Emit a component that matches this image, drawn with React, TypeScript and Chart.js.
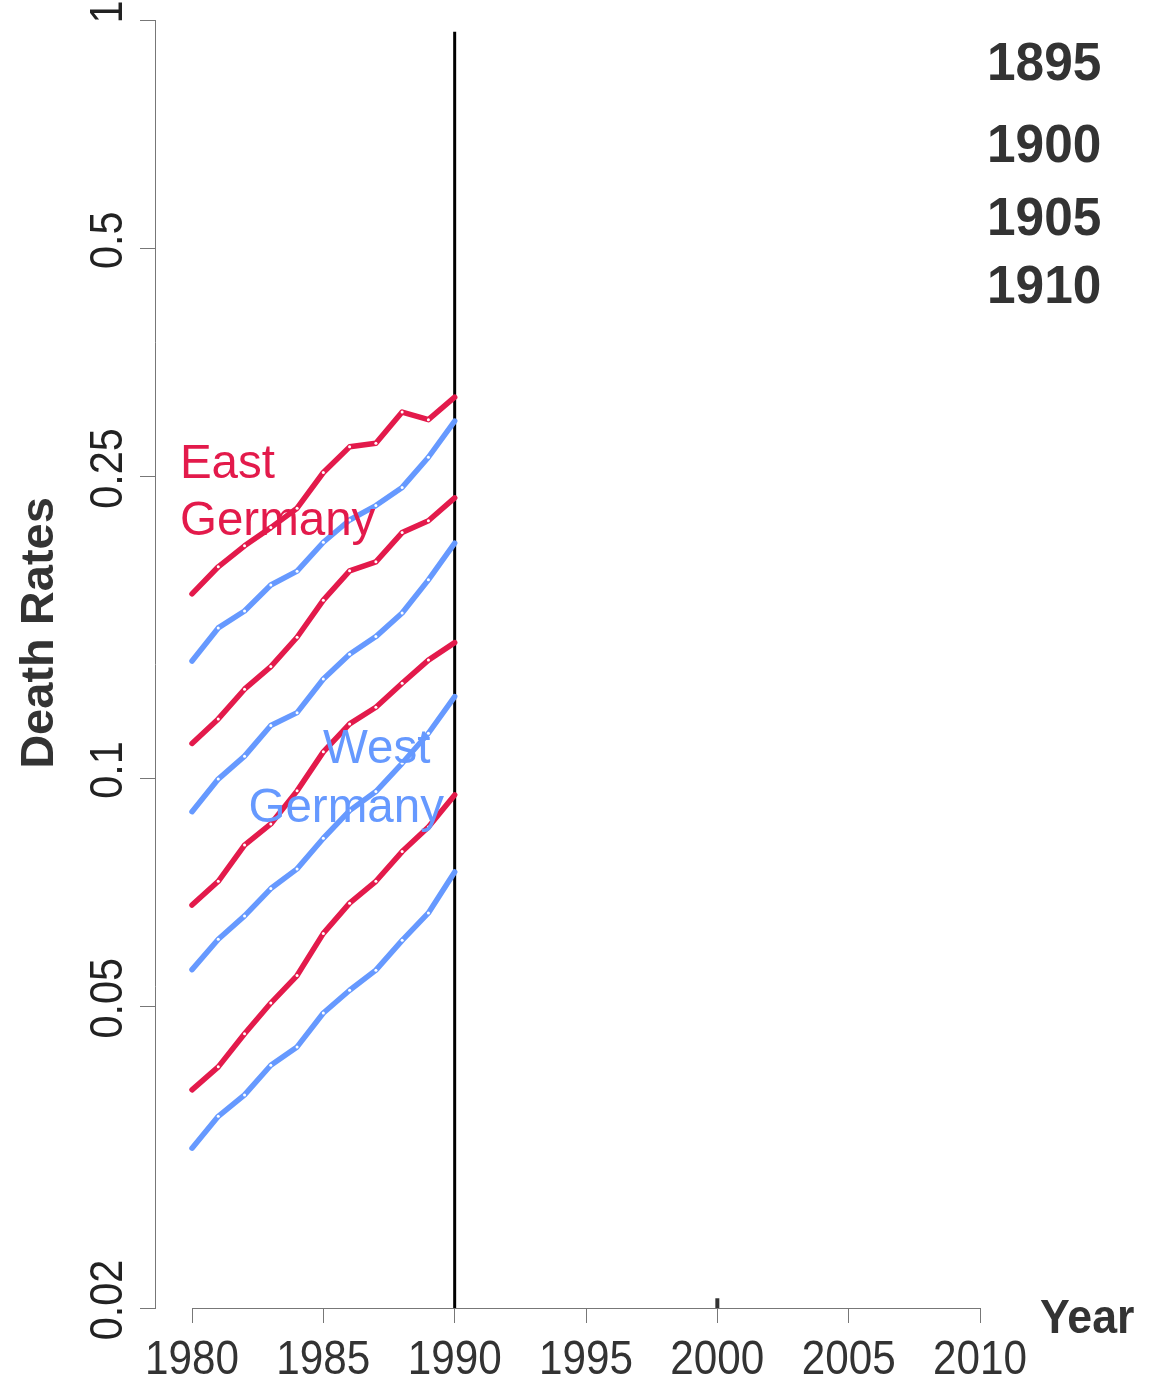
import React, { useEffect, useRef } from "react";
import { Chart, registerables } from "chart.js";

Chart.register(...registerables);

const W = 1163;
const H = 1379;

// ---- data ----
const YEARS = [1980, 1981, 1982, 1983, 1984, 1985, 1986, 1987, 1988, 1989, 1990];
const COHORTS = ["1895", "1900", "1905", "1910"];

const EAST_1895 = [0.175, 0.190, 0.2025, 0.214, 0.227, 0.253, 0.2735, 0.2765, 0.304, 0.297, 0.318];
const WEST_1895 = [0.1427, 0.1578, 0.1661, 0.1798, 0.1875, 0.2047, 0.219, 0.2288, 0.2418, 0.265, 0.2958];
const EAST_1900 = [0.1111, 0.1197, 0.131, 0.1403, 0.1534, 0.1717, 0.1877, 0.1929, 0.2108, 0.2185, 0.2342];
const WEST_1900 = [0.0903, 0.0997, 0.1069, 0.1173, 0.122, 0.1351, 0.1457, 0.1537, 0.1651, 0.1826, 0.2041];
const EAST_1905 = [0.068, 0.0731, 0.0816, 0.087, 0.0962, 0.1083, 0.1179, 0.124, 0.1334, 0.1431, 0.1509];
const WEST_1905 = [0.0559, 0.0613, 0.0658, 0.0715, 0.0759, 0.0833, 0.0906, 0.096, 0.1046, 0.1146, 0.1281];
const EAST_1910 = [0.0388, 0.0416, 0.046, 0.0505, 0.0549, 0.0624, 0.0684, 0.0731, 0.08, 0.0862, 0.095];
const WEST_1910 = [0.0325, 0.0358, 0.0382, 0.0418, 0.0442, 0.049, 0.0525, 0.0558, 0.0611, 0.0664, 0.0752];

const X_TICKS = [1980, 1985, 1990, 1995, 2000, 2005, 2010];
const Y_TICKS = [0.02, 0.05, 0.1, 0.25, 0.5, 1];
const Y_TICK_LABELS = ["0.02", "0.05", "0.1", "0.25", "0.5", "1"];

const X_MIN = 1978.591;
const X_MAX = 2011.18;
const Y_MIN = 0.02;
const Y_MAX = 1;

const REUNIFICATION_YEAR = 1990;
const REUNIFICATION_TOP = 0.965;
const MARK_YEAR = 2000;
const MARK_TOP = 0.0206;

// ---- styles ----
const RED = "#E31A4B";
const BLUE = "#6699FF";
const AXIS = "#777777";
const TEXT = "#333333";
const TICK_TEXT = "#222222";
const FONT = "'Liberation Sans', Arial, Helvetica, sans-serif";

const pts = (vals: number[]) => vals.map((v, i) => ({ x: YEARS[i], y: v }));

function seriesDataset(label: string, vals: number[], color: string) {
  const last = vals.length - 1;
  return {
    label,
    data: pts(vals),
    borderColor: color,
    backgroundColor: color,
    borderWidth: 5.5,
    borderCapStyle: "round" as const,
    borderJoinStyle: "round" as const,
    pointRadius: (c: any) => (c.dataIndex === 0 || c.dataIndex === last ? 0 : 1.5),
    pointBackgroundColor: "#ffffff",
    pointBorderWidth: 0,
    pointHoverRadius: 0,
    tension: 0,
    fill: false,
  };
}

function drawText(
  ctx: CanvasRenderingContext2D,
  text: string,
  x: number,
  y: number,
  font: string,
  color: string,
  align: CanvasTextAlign,
  sx: number,
  rot = 0
) {
  ctx.save();
  ctx.translate(x, y);
  if (rot) ctx.rotate(rot);
  ctx.scale(sx, 1);
  ctx.font = font;
  ctx.fillStyle = color;
  ctx.textAlign = align;
  ctx.textBaseline = "alphabetic";
  ctx.fillText(text, 0, 0);
  ctx.restore();
}

// in-plot labels, anchored in data coordinates (left edge, baseline)
const GROUP_LABELS = [
  { text: "East", x: 1979.54, y: 0.2486, color: RED },
  { text: "Germany", x: 1979.54, y: 0.2092, color: RED },
  { text: "West", x: 1984.99, y: 0.1047, color: BLUE },
  { text: "Germany", x: 1982.15, y: 0.0875, color: BLUE },
];

const annotationPlugin = {
  id: "annotations",
  afterDraw(chart: any) {
    const ctx: CanvasRenderingContext2D = chart.ctx;
    const xs = chart.scales.x;
    const ys = chart.scales.y;
    const area = chart.chartArea;

    // x axis line (only over the tick range)
    ctx.save();
    ctx.strokeStyle = AXIS;
    ctx.lineWidth = 1;
    const ly = Math.round(area.bottom) + 0.5;
    ctx.beginPath();
    ctx.moveTo(Math.round(xs.getPixelForValue(X_TICKS[0])) + 0.5, ly);
    ctx.lineTo(Math.round(xs.getPixelForValue(X_TICKS[X_TICKS.length - 1])) + 0.5, ly);
    ctx.stroke();
    ctx.restore();

    // x tick labels
    X_TICKS.forEach((t) => {
      drawText(ctx, String(t), xs.getPixelForValue(t), area.bottom + 66, `48px ${FONT}`, TEXT, "center", 0.88);
    });

    // y tick labels (rotated)
    Y_TICKS.forEach((t, i) => {
      drawText(ctx, Y_TICK_LABELS[i], area.left - 33, ys.getPixelForValue(t) - 8, `47px ${FONT}`, TICK_TEXT, "center", 0.88, -Math.PI / 2);
    });

    // axis titles
    drawText(ctx, "Death Rates", 53, 633, `bold 47px ${FONT}`, TEXT, "center", 1.0, -Math.PI / 2);
    drawText(ctx, "Year", area.right + 29, area.bottom + 25, `bold 48px ${FONT}`, TEXT, "left", 0.93);

    // cohort labels
    const cohortBaselines = [80, 162, 235, 303];
    COHORTS.forEach((c, i) => {
      drawText(ctx, c, 987, cohortBaselines[i], `bold 53px ${FONT}`, TEXT, "left", 0.97);
    });

    // group labels
    GROUP_LABELS.forEach((g) => {
      drawText(ctx, g.text, xs.getPixelForValue(g.x), ys.getPixelForValue(g.y), `48px ${FONT}`, g.color, "left", 0.99);
    });
  },
};

export default function App() {
  const ref = useRef<HTMLCanvasElement>(null);

  useEffect(() => {
    if (!ref.current) return;
    const datasets: any[] = [
      seriesDataset("East Germany " + COHORTS[0], EAST_1895, RED),
      seriesDataset("West Germany " + COHORTS[0], WEST_1895, BLUE),
      seriesDataset("East Germany " + COHORTS[1], EAST_1900, RED),
      seriesDataset("West Germany " + COHORTS[1], WEST_1900, BLUE),
      seriesDataset("East Germany " + COHORTS[2], EAST_1905, RED),
      seriesDataset("West Germany " + COHORTS[2], WEST_1905, BLUE),
      seriesDataset("East Germany " + COHORTS[3], EAST_1910, RED),
      seriesDataset("West Germany " + COHORTS[3], WEST_1910, BLUE),
      {
        label: "Reunification",
        data: [
          { x: REUNIFICATION_YEAR, y: Y_MIN },
          { x: REUNIFICATION_YEAR, y: REUNIFICATION_TOP },
        ],
        borderColor: "#000000",
        borderWidth: 3,
        pointRadius: 0,
        fill: false,
      },
      {
        label: "Mark",
        data: [
          { x: MARK_YEAR, y: Y_MIN },
          { x: MARK_YEAR, y: MARK_TOP },
        ],
        borderColor: "#333333",
        borderWidth: 4,
        pointRadius: 0,
        fill: false,
        clip: false,
      },
    ];

    const chart = new Chart(ref.current, {
      type: "line",
      data: { datasets },
      options: {
        animation: false,
        responsive: false,
        maintainAspectRatio: false,
        devicePixelRatio: 1,
        layout: { padding: { left: 0, right: W - 1011, top: 20, bottom: 0 } },
        plugins: {
          legend: { display: false },
          tooltip: { enabled: false },
          title: { display: false },
        },
        scales: {
          x: {
            type: "linear",
            min: X_MIN,
            max: X_MAX,
            afterBuildTicks: (s: any) => {
              s.ticks = X_TICKS.map((v) => ({ value: v }));
            },
            afterFit: (s: any) => {
              s.height = H - 1308;
            },
            ticks: { display: false },
            grid: { drawOnChartArea: false, drawTicks: true, tickLength: 15, color: AXIS, lineWidth: 1 },
            border: { display: false },
          },
          y: {
            type: "logarithmic",
            min: Y_MIN,
            max: Y_MAX,
            afterBuildTicks: (s: any) => {
              s.ticks = Y_TICKS.map((v) => ({ value: v }));
            },
            afterFit: (s: any) => {
              s.width = 155;
            },
            ticks: { display: false },
            grid: { drawOnChartArea: false, drawTicks: true, tickLength: 15, color: AXIS, lineWidth: 1 },
            border: { display: true, color: AXIS, width: 1 },
          },
        },
      } as any,
      plugins: [annotationPlugin],
    });
    return () => chart.destroy();
  }, []);

  return (
    <div style={{ position: "absolute", left: 0, top: 0, width: W, height: H, background: "#ffffff" }}>
      <canvas ref={ref} width={W} height={H} style={{ display: "block", width: W, height: H }} />
    </div>
  );
}
